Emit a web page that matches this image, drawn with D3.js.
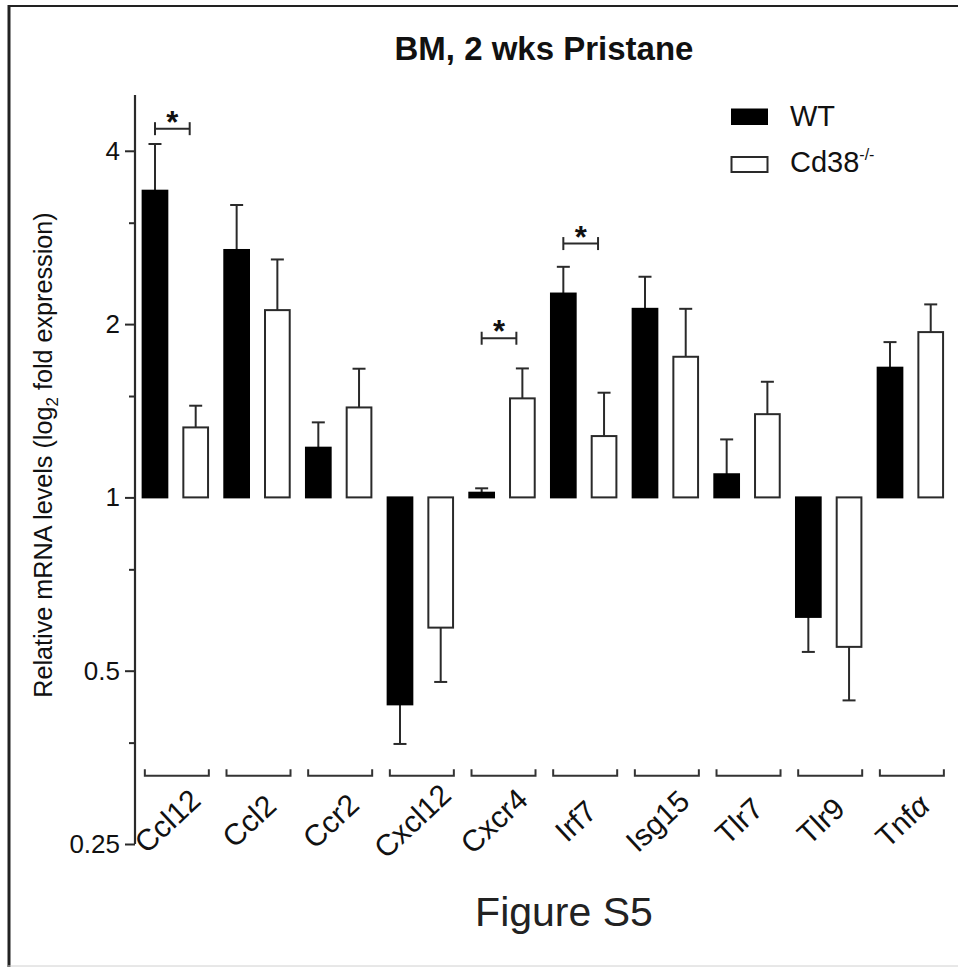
<!DOCTYPE html>
<html>
<head>
<meta charset="utf-8">
<script src="https://cdn.jsdelivr.net/npm/d3@7"></script>
<style>
  html, body { margin: 0; padding: 0; background: #fff; }
  svg { display: block; font-family: "Liberation Sans", Arial, Helvetica, sans-serif; }
</style>
</head>
<body>
<svg id="chart" width="958" height="967"></svg>
<script>
// ---- data ----
const categories = ["Ccl12", "Ccl2", "Ccr2", "Cxcl12", "Cxcr4", "Irf7", "Isg15", "Tlr7", "Tlr9", "Tnfα"];
const series = ["WT", "Cd38"];
const wtMean = [3.41, 2.69, 1.22, 0.437, 1.019, 2.26, 2.126, 1.097, 0.620, 1.68];
const wtErrEnd = [4.11, 3.22, 1.35, 0.373, 1.037, 2.515, 2.417, 1.261, 0.539, 1.861];
const koMean = [1.323, 2.115, 1.433, 0.594, 1.486, 1.278, 1.755, 1.395, 0.550, 1.937];
const koErrEnd = [1.443, 2.59, 1.673, 0.478, 1.675, 1.52, 2.126, 1.588, 0.444, 2.164];
const majorTicks = [0.25, 0.5, 1, 2, 4];
const majorTickLabels = ["0.25", "0.5", "1", "2", "4"];
const minorTicks = [0.375, 0.75, 1.5, 3];
const sigCategories = ["Ccl12", "Cxcr4", "Irf7"];
const sigLevels = [4.37, 1.89, 2.76];
const titleText = "BM, 2 wks Pristane";
const figureLabel = "Figure S5";

// ---- layout ----
const svg = d3.select("#chart");
const ink = "#111";
const lineCol = "#2a2a2a";

const y = d3.scaleLog().base(2).domain([0.25, 5]).range([844, 95]);
const x0 = d3.scaleBand().domain(categories).range([134.5, 951.2]).padding(0);
const x1 = d3.scaleBand().domain(series).range([0, x0.bandwidth()]).paddingInner(0.344).paddingOuter(0.175);
const bw = x1.bandwidth();

// frame
svg.append("line").attr("x1", 9).attr("x2", 9).attr("y1", 5).attr("y2", 967)
  .attr("stroke", "#222").attr("stroke-width", 3);
svg.append("line").attr("x1", 8).attr("x2", 958).attr("y1", 6).attr("y2", 6)
  .attr("stroke", "#222").attr("stroke-width", 2);
svg.append("line").attr("x1", 8).attr("x2", 958).attr("y1", 966).attr("y2", 966)
  .attr("stroke", "#d0d0d0").attr("stroke-width", 1);

// title
svg.append("text").attr("x", 544).attr("y", 60).attr("text-anchor", "middle")
  .attr("font-size", 33).attr("font-weight", "bold").attr("fill", ink).text(titleText);

// y axis
const axisX = 135;
const yAxis = d3.axisLeft(y).tickValues(majorTicks).tickSize(10).tickSizeOuter(0).tickPadding(5)
  .tickFormat((d, i) => majorTickLabels[i]);
const gy = svg.append("g").attr("transform", `translate(${axisX},0)`).call(yAxis);
gy.select(".domain").attr("stroke", lineCol).attr("stroke-width", 2.2)
  .attr("d", `M0,${y(5)}V${y(0.25)}`);
gy.selectAll(".tick line").attr("stroke", lineCol).attr("stroke-width", 2);
gy.selectAll(".tick text").attr("font-size", 26).attr("fill", ink)
  .attr("font-family", "Liberation Sans, Arial, sans-serif");
const gyMinor = svg.append("g").attr("transform", `translate(${axisX},0)`)
  .call(d3.axisLeft(y).tickValues(minorTicks).tickSize(6).tickSizeOuter(0).tickFormat(""));
gyMinor.select(".domain").remove();
gyMinor.selectAll(".tick line").attr("stroke", lineCol).attr("stroke-width", 2);

// y label
const yl = svg.append("text").attr("transform", "translate(52,455) rotate(-90)")
  .attr("text-anchor", "middle").attr("font-size", 25.2).attr("fill", ink);
yl.append("tspan").text("Relative mRNA levels (log");
yl.append("tspan").attr("font-size", 17).attr("dy", 6).text("2");
yl.append("tspan").attr("dy", -6).text(" fold expression)");

// bars
const rows = categories.map((c, i) => ({
  cat: c,
  vals: [
    { s: "WT", mean: wtMean[i], err: wtErrEnd[i] },
    { s: "Cd38", mean: koMean[i], err: koErrEnd[i] }
  ]
}));
const groups = svg.append("g").selectAll("g").data(rows).join("g")
  .attr("transform", d => `translate(${x0(d.cat)},0)`);

// error bars (drawn first, bars on top)
groups.selectAll("g.err").data(d => d.vals).join("g").attr("class", "err").each(function(d) {
  const g = d3.select(this);
  const cx = x1(d.s) + bw / 2;
  g.append("line").attr("x1", cx).attr("x2", cx).attr("y1", y(d.mean)).attr("y2", y(d.err))
    .attr("stroke", lineCol).attr("stroke-width", 2);
  g.append("line").attr("x1", cx - 6.5).attr("x2", cx + 6.5).attr("y1", y(d.err)).attr("y2", y(d.err))
    .attr("stroke", lineCol).attr("stroke-width", 2);
});

groups.selectAll("rect").data(d => d.vals).join("rect")
  .attr("x", d => x1(d.s) + 1)
  .attr("width", bw - 2)
  .attr("y", d => Math.min(y(d.mean), y(1)))
  .attr("height", d => Math.abs(y(d.mean) - y(1)))
  .attr("fill", d => d.s === "WT" ? "#000" : "#fff")
  .attr("stroke", d => d.s === "WT" ? "#000" : lineCol)
  .attr("stroke-width", 2);

// significance brackets
sigCategories.forEach((c, i) => {
  const xa = x0(c) + x1("WT") + bw / 2;
  const xb = x0(c) + x1("Cd38") + bw / 2 - 6;
  const yy = y(sigLevels[i]);
  const g = svg.append("g").attr("stroke", lineCol).attr("stroke-width", 2);
  g.append("line").attr("x1", xa).attr("x2", xb).attr("y1", yy).attr("y2", yy);
  g.append("line").attr("x1", xa).attr("x2", xa).attr("y1", yy - 6.5).attr("y2", yy + 6.5);
  g.append("line").attr("x1", xb).attr("x2", xb).attr("y1", yy - 6.5).attr("y2", yy + 6.5);
  svg.append("text").attr("x", (xa + xb) / 2).attr("y", yy + 4).attr("text-anchor", "middle")
    .attr("font-size", 31).attr("font-weight", "bold").attr("fill", ink).text("*");
});

// category brackets
const bY = 775.7;
const bg = svg.append("g").attr("fill", "none").attr("stroke", "#333").attr("stroke-width", 2);
categories.forEach(c => {
  const cx = x0(c) + x0.bandwidth() / 2 + 1.5;
  bg.append("path").attr("d", `M${cx - 32},${bY - 6.5}V${bY}H${cx + 32}V${bY - 6.5}`);
});

// category labels
categories.forEach(c => {
  const cx = x0(c) + x0.bandwidth() / 2 - 8;
  const t = svg.append("text").attr("transform", `translate(${cx},821) rotate(-43)`)
    .attr("text-anchor", "middle").attr("dy", "0.35em").attr("font-size", 30).attr("fill", ink);
  if (c.endsWith("α")) {
    t.append("tspan").text(c.slice(0, -1));
    t.append("tspan").attr("font-style", "italic").text("α");
  } else {
    t.text(c);
  }
});

// legend
svg.append("rect").attr("x", 731).attr("y", 108.5).attr("width", 37).attr("height", 16.5).attr("fill", "#000");
svg.append("rect").attr("x", 731.5).attr("y", 157).attr("width", 36).attr("height", 15)
  .attr("fill", "#fff").attr("stroke", lineCol).attr("stroke-width", 2);
svg.append("text").attr("x", 790).attr("y", 126).attr("font-size", 29).attr("fill", ink).text("WT");
const lt = svg.append("text").attr("x", 790).attr("y", 172).attr("font-size", 29).attr("fill", ink);
lt.append("tspan").text("Cd38");
lt.append("tspan").attr("font-size", 16).attr("dy", -12).text("-/-");

// figure label
svg.append("text").attr("x", 564).attr("y", 926).attr("text-anchor", "middle")
  .attr("font-size", 41).attr("fill", "#222").text(figureLabel);
</script>
</body>
</html>
